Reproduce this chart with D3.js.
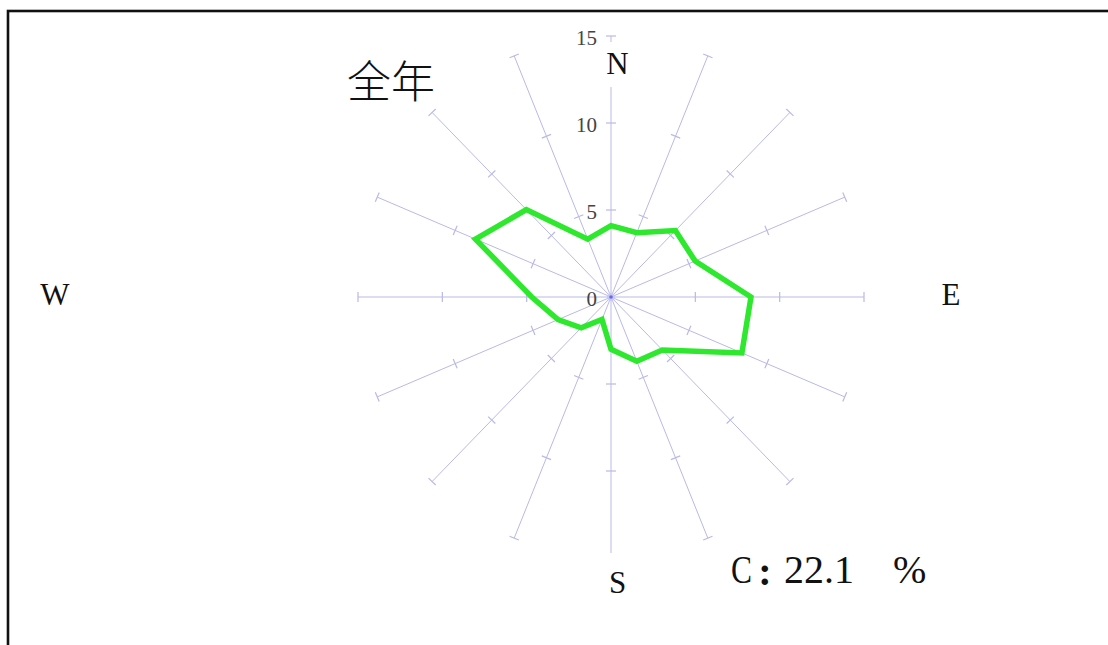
<!DOCTYPE html>
<html>
<head>
<meta charset="utf-8">
<script src="https://cdn.jsdelivr.net/npm/d3@7"></script>
<style>
  html, body { margin: 0; padding: 0; background: #fff; }
  svg { display: block; }
</style>
</head>
<body>
<svg id="chart" width="1108" height="645"></svg>
<script>
// Wind direction frequencies (%) for the whole year, 16 compass points clockwise from N
const directions = ["N", "NNE", "NE", "ENE", "E", "ESE", "SE", "SSE",
                    "S", "SSW", "SW", "WSW", "W", "WNW", "NW", "NNW"];
const frequencies = [4.1, 4.0, 5.4, 5.4, 8.3, 8.4, 4.3, 4.0,
                     3.0, 1.4, 2.5, 3.4, 4.7, 8.7, 7.1, 3.6];
const radialTicks = [0, 5, 10, 15];
const compassLabels = ["N", "E", "S", "W"];
const title = "全年";
const calmValue = 22.1;

const svg = d3.select("#chart");
const cx = 611, cy = 297;

// Radial scales (horizontal and vertical spread differ slightly)
const rX = d3.scaleLinear().domain([0, 15]).range([0, 253]);
const rY = d3.scaleLinear().domain([0, 15]).range([0, 261]);
const angle = d3.scalePoint().domain(directions).range([0, 360 * 15 / 16]);

function pos(dir, v) {
  const a = angle(dir) * Math.PI / 180;
  return [cx + rX(v) * Math.sin(a), cy - rY(v) * Math.cos(a)];
}

// Outer frame
svg.append("rect")
  .attr("x", 8).attr("y", 11).attr("width", 1300).attr("height", 800)
  .attr("fill", "#fff").attr("stroke", "#111").attr("stroke-width", 2.6);

const spokeColor = "#b9b9e6";
const grid = svg.append("g");

// Spokes with tick marks at every 5 %
directions.forEach(d => {
  const [x1, y1] = pos(d, 0);
  const [x2, y2] = pos(d, 15);
  grid.append("line")
    .attr("x1", x1).attr("y1", y1).attr("x2", x2).attr("y2", y2)
    .attr("stroke", spokeColor).attr("stroke-width", 1);
  const len = Math.hypot(x2 - x1, y2 - y1);
  const px = -(y2 - y1) / len, py = (x2 - x1) / len;
  radialTicks.filter(t => t > 0).forEach(t => {
    const [tx, ty] = pos(d, t);
    grid.append("line")
      .attr("x1", tx - px * 5).attr("y1", ty - py * 5)
      .attr("x2", tx + px * 5).attr("y2", ty + py * 5)
      .attr("stroke", spokeColor).attr("stroke-width", 1.2);
  });
});

// Centre dot
svg.append("circle").attr("cx", cx).attr("cy", cy).attr("r", 4)
  .attr("fill", "#c8c8f4");
svg.append("circle").attr("cx", cx).attr("cy", cy).attr("r", 1.8)
  .attr("fill", "#6a6ad8");

// Radial tick labels along the north spoke
svg.append("g").selectAll("text").data(radialTicks).join("text")
  .attr("x", 597)
  .attr("y", d => cy - rY(d) + 2)
  .attr("text-anchor", "end")
  .attr("dominant-baseline", "central")
  .attr("font-family", "Liberation Serif, serif")
  .attr("font-size", 21)
  .attr("fill", "#444")
  .text(d => d);

// Frequency polygon
const line = d3.line().curve(d3.curveLinearClosed);
svg.append("path")
  .attr("d", line(directions.map((d, i) => pos(d, frequencies[i]))))
  .attr("fill", "none")
  .attr("stroke", "#2de82d")
  .attr("stroke-width", 5.5)
  .attr("stroke-linejoin", "miter");

// Compass labels (with a white backing that interrupts the N and S spokes)
const compassPos = {
  N: [617.5, 74, [598, 42, 44, 45]],
  E: [951, 305, null],
  S: [617.5, 593, [598, 553, 44, 50]],
  W: [55, 305, null]
};
compassLabels.forEach(k => {
  const [x, y, box] = compassPos[k];
  if (box) {
    svg.append("rect").attr("x", box[0]).attr("y", box[1])
      .attr("width", box[2]).attr("height", box[3]).attr("fill", "#fff");
  }
  svg.append("text")
    .attr("x", x).attr("y", y)
    .attr("text-anchor", "middle")
    .attr("font-family", "Liberation Serif, serif")
    .attr("font-size", 31)
    .attr("fill", "#111")
    .text(k);
});

// Title
svg.append("text")
  .attr("x", 347).attr("y", 98)
  .attr("font-family", "Noto Sans CJK SC, sans-serif")
  .attr("font-size", 44)
  .attr("font-weight", 300)
  .attr("fill", "#111")
  .text(title);

// Calm frequency: "C:22.1 %"
const calm = svg.append("g")
  .attr("font-family", "Liberation Serif, serif")
  .attr("font-size", 40)
  .attr("fill", "#111");
calm.append("text").attr("x", 731).attr("y", 583)
  .attr("textLength", 21).attr("lengthAdjust", "spacingAndGlyphs").text("C");
calm.append("text").attr("x", 765).attr("y", 585)
  .attr("text-anchor", "middle")
  .attr("font-weight", 700).text(":");
calm.append("text").attr("x", 784).attr("y", 583).text(calmValue.toFixed(1));
calm.append("text").attr("x", 893).attr("y", 583).text("%");
</script>
</body>
</html>
